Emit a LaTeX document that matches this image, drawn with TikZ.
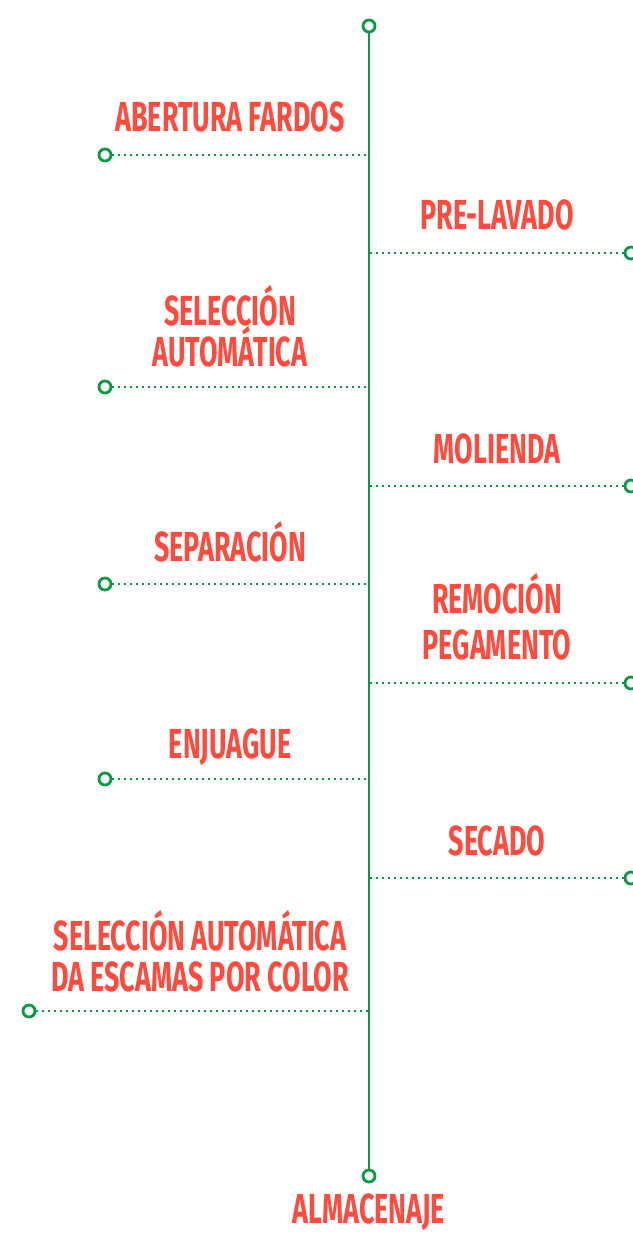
\documentclass[tikz,border=0pt]{standalone}
\usepackage{fontspec}
\newfontfamily\stagefont[FakeStretch=0.64]{Fira Sans}
\definecolor{lineGreen}{HTML}{0A9A44}
\definecolor{stageRed}{HTML}{FF4A3E}
\tikzset{
	dotend/.style={circle, draw=lineGreen, fill=white, line width=2.8pt, minimum size=12pt, inner sep=0pt},
	spine/.style={draw=lineGreen, line width=2.8pt},
	leader/.style={draw=lineGreen, line width=2.3pt, dash pattern=on 2pt off 4pt},
	stage/.style={text=stageRed, font=\stagefont\bfseries\fontsize{42}{41}\selectfont, inner sep=0pt, text depth=0pt, anchor=south, align=center}
}
\begin{document}
\begin{tikzpicture}[x=1pt, y=-1pt]
	\useasboundingbox (0,0) rectangle (632,1236);

	% eje central
	\node [dotend] (top) at (369,26) {};
	\node [dotend] (bottom) at (369,1176) {};
	\draw [spine] (top) -- (bottom);

	% ramas
	\foreach \n/\x/\y in {1/105/155, 2/631/253, 3/105/387, 4/631/486, 5/105/584, 6/631/683, 7/105/779, 8/631/878, 9/29/1011}
	{
		\node [dotend] (end\n) at (\x,\y) {};
		\coordinate (axis\n) at (369,\y);
		\draw [leader] (end\n) -- (axis\n);
	}

	% etapas
	\node [stage] (abertura) at (230,132) {ABERTURA FARDOS};
	\node [stage] (prelavado) at (497,230) {PRE-LAVADO};
	\node [stage] (seleccion) at (230,367) {SELECCIÓN\\AUTOMÁTICA};
	\node [stage] (molienda) at (497,464) {MOLIENDA};
	\node [stage] (separacion) at (230,562) {SEPARACIÓN};
	\node [stage] (remocion) at (497,660) {REMOCIÓN\\[5pt]PEGAMENTO};
	\node [stage] (enjuague) at (230,759) {ENJUAGUE};
	\node [stage] (secado) at (497,856) {SECADO};
	\node [stage] (escamas) at (200,992) {SELECCIÓN AUTOMÁTICA\\DA ESCAMAS POR COLOR};
	\node [stage] (almacenaje) at (369,1224) {ALMACENAJE};
\end{tikzpicture}
\end{document}
